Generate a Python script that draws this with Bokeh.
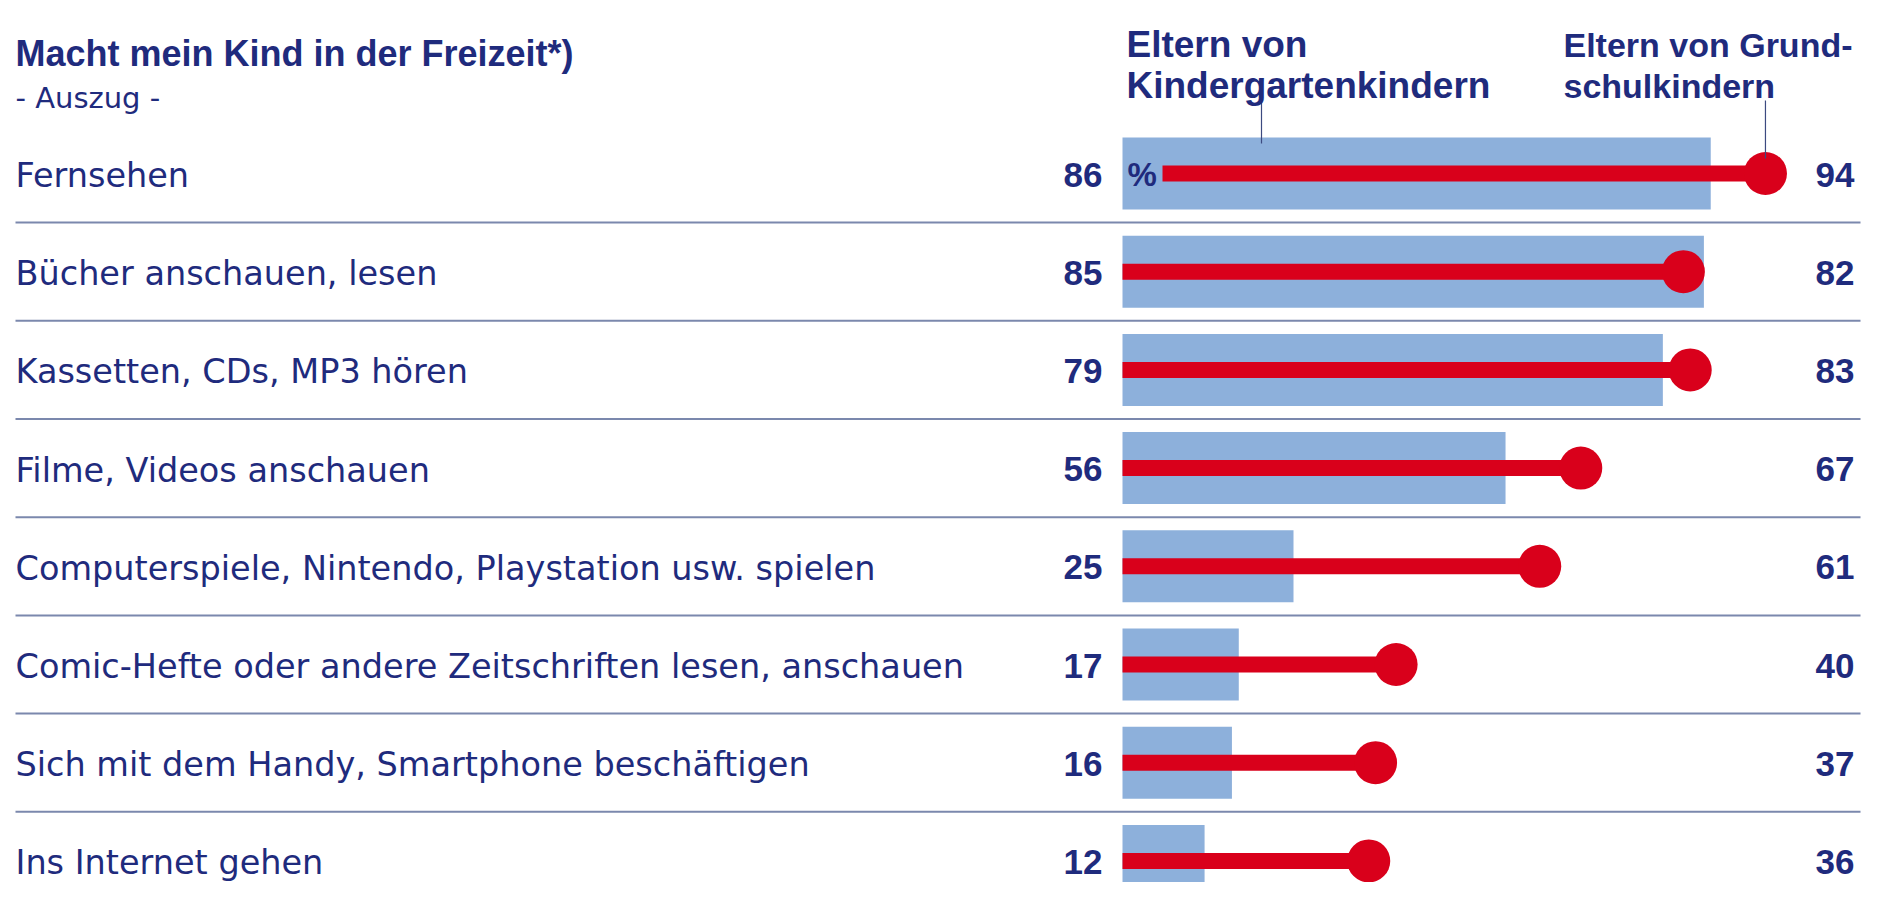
from bokeh.plotting import figure
from bokeh.models import ColumnDataSource, Range1d, Label
from bokeh.core.properties import value
from bokeh.embed import file_html
from bokeh.resources import INLINE

# ---------------- data ----------------
categories = [
    "Fernsehen",
    "Bücher anschauen, lesen",
    "Kassetten, CDs, MP3 hören",
    "Filme, Videos anschauen",
    "Computerspiele, Nintendo, Playstation usw. spielen",
    "Comic-Hefte oder andere Zeitschriften lesen, anschauen",
    "Sich mit dem Handy, Smartphone beschäftigen",
    "Ins Internet gehen",
]
kindergarten = [86, 85, 79, 56, 25, 17, 16, 12]
grundschule = [94, 82, 83, 67, 61, 40, 37, 36]

title = "Macht mein Kind in der Freizeit*)"
subtitle = "- Auszug -"
legend_kiga = ["Eltern von", "Kindergartenkindern"]
legend_gs = ["Eltern von Grund-", "schulkindern"]

# ---------------- layout helpers ----------------
W, H = 1862, 882
ZERO_X = 1122        # pixel of value 0
PPU = 6.84           # pixels per percent
ROW0_Y = 173         # pixel of first row centre
ROW_H = 98.2


def dx(X):
    return (X - ZERO_X) / PPU


def dy(Y):
    return (Y - ROW0_Y) / ROW_H


NAVY = "#1f2b7d"
RED = "#d9001b"
BLUE = "#8db0db"
SEP = "#7b88ad"

p = figure(width=W, height=H,
           x_range=Range1d(dx(0), dx(W)),
           y_range=Range1d(dy(H), dy(0)),
           output_backend="svg", toolbar_location=None,
           min_border=0, background_fill_color="white",
           border_fill_color="white", outline_line_color=None)
p.axis.visible = False
p.grid.visible = False

rows = list(range(len(categories)))

# separators
sep_y = [r + 0.5 for r in rows[:-1]]
p.segment(x0=[dx(15)] * len(sep_y), x1=[dx(1860)] * len(sep_y),
          y0=sep_y, y1=sep_y, line_color=SEP, line_width=2)

# bars
src = ColumnDataSource(dict(
    y=rows, kiga=kindergarten, gs=grundschule, cat=categories,
    kiga_txt=[str(v) for v in kindergarten],
    gs_txt=[str(v) for v in grundschule],
    start=[dx(1162) if r == 0 else 0 for r in rows],
))
p.hbar(y="y", left=0, right="kiga", height=72 / ROW_H, source=src,
       fill_color=BLUE, line_color=None)

# red lines & dots
p.segment(x0="start", x1="gs", y0="y", y1="y", source=src,
          line_color=RED, line_width=16, line_cap="butt")
p.scatter(x="gs", y="y", size=43, source=src, fill_color=RED, line_color=None)

# leader lines for header legend
p.segment(x0=[dx(1261), grundschule[0]], x1=[dx(1261), grundschule[0]],
          y0=[dy(100), dy(100)], y1=[dy(143), dy(158)],
          line_color="#3c4a80", line_width=1.2)

# category labels
p.text(x=dx(15), y="y", text="cat", source=src, text_align="left",
       text_baseline="middle", text_color=NAVY,
       text_font=value("DejaVu Sans"), text_font_size="33.5px", y_offset=2)

# values
p.text(x=dx(1102), y="y", text="kiga_txt", source=src, text_align="right",
       text_baseline="middle", text_color=NAVY,
       text_font=value("Liberation Sans"), text_font_style="bold",
       text_font_size="35px", y_offset=1)
p.text(x=dx(1854), y="y", text="gs_txt", source=src, text_align="right",
       text_baseline="middle", text_color=NAVY,
       text_font=value("Liberation Sans"), text_font_style="bold",
       text_font_size="35px", y_offset=1)

# percent sign
p.add_layout(Label(x=dx(1127), y=0, text="%", text_align="left",
                   text_baseline="middle", text_color=NAVY,
                   text_font="Liberation Sans", text_font_style="bold",
                   text_font_size="33px", y_offset=-1))

# title and subtitle
p.add_layout(Label(x=dx(15), y=dy(53), text=title, text_align="left",
                   text_baseline="alphabetic", text_color=NAVY,
                   text_font="Liberation Sans", text_font_style="bold",
                   text_font_size="36px"))
p.add_layout(Label(x=dx(15), y=dy(97), text=subtitle, text_align="left",
                   text_baseline="alphabetic", text_color=NAVY,
                   text_font="DejaVu Sans", text_font_size="29px"))

# header legend texts
for i, t in enumerate(legend_kiga):
    p.add_layout(Label(x=dx(1126), y=dy(44 + 41 * i), text=t, text_align="left",
                       text_baseline="alphabetic", text_color=NAVY,
                       text_font="Liberation Sans", text_font_style="bold",
                       text_font_size="37px"))
for i, t in enumerate(legend_gs):
    p.add_layout(Label(x=dx(1563), y=dy(44 + 41 * i), text=t, text_align="left",
                       text_baseline="alphabetic", text_color=NAVY,
                       text_font="Liberation Sans", text_font_style="bold",
                       text_font_size="34px"))

open("out.html", "w").write(file_html(p, INLINE))
